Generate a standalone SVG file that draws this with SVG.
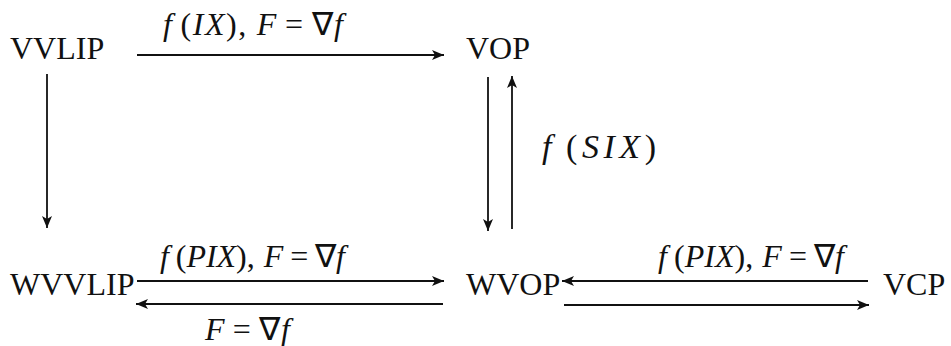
<svg xmlns="http://www.w3.org/2000/svg" width="951" height="346" viewBox="0 0 951 346">
<style>
.node{font-family:'Liberation Serif','Times New Roman',serif;font-size:32px;fill:#111}
.lbl{font-family:'Liberation Serif','Times New Roman',serif;font-size:32px;fill:#111}
.i{font-style:italic}
.c{stroke:#111;stroke-width:1.8;fill:none;marker-end:url(#ah)}
</style>
<defs>
<marker id="ah" markerUnits="userSpaceOnUse" markerWidth="14" markerHeight="10" refX="12" refY="5" orient="auto">
<path d="M0,0 L12,5 L0,10 L3,5 Z" fill="#111"/>
</marker>
</defs>
<rect width="951" height="346" fill="#fff"/>
<g id="VVLIP"><text class="node" x="10" y="59">VVLIP</text></g>
<g id="VOP"><text class="node" x="466" y="59">VOP</text></g>
<g id="WVVLIP"><text class="node" x="10" y="295">WVVLIP</text></g>
<g id="WVOP"><text class="node" x="466" y="295">WVOP</text></g>
<g id="VCP"><text class="node" x="883" y="295">VCP</text></g>
<g id="connectors">
<line class="c" x1="137" y1="55" x2="444" y2="55"/>
<line class="c" x1="47" y1="74" x2="47" y2="228"/>
<line class="c" x1="488" y1="77" x2="488" y2="231"/>
<line class="c" x1="512" y1="229" x2="512" y2="76"/>
<line class="c" x1="137" y1="281" x2="444" y2="281"/>
<line class="c" x1="443" y1="304" x2="136" y2="304"/>
<line class="c" x1="868" y1="281" x2="562" y2="281"/>
<line class="c" x1="564" y1="305" x2="869" y2="305"/>
</g>
<g id="labels">
<text class="lbl" x="163" y="35" textLength="180" lengthAdjust="spacing"><tspan class="i">f</tspan><tspan dx="7">(</tspan><tspan class="i">IX</tspan>),<tspan class="i" dx="9">F</tspan><tspan dx="7">=</tspan><tspan dx="7">∇</tspan><tspan class="i">f</tspan></text>
<text class="lbl" x="542" y="158" style="font-size:34px" textLength="114" lengthAdjust="spacing"><tspan class="i">f</tspan><tspan dx="10">(</tspan><tspan class="i">SIX</tspan>)</text>
<text class="lbl" x="160" y="267" textLength="185" lengthAdjust="spacing"><tspan class="i">f</tspan><tspan dx="7">(</tspan><tspan class="i">PIX</tspan>),<tspan class="i" dx="9">F</tspan><tspan dx="7">=</tspan><tspan dx="7">∇</tspan><tspan class="i">f</tspan></text>
<text class="lbl" x="205" y="340" textLength="85" lengthAdjust="spacing"><tspan class="i">F</tspan><tspan dx="7">=</tspan><tspan dx="7">∇</tspan><tspan class="i">f</tspan></text>
<text class="lbl" x="658" y="267" textLength="186" lengthAdjust="spacing"><tspan class="i">f</tspan><tspan dx="7">(</tspan><tspan class="i">PIX</tspan>),<tspan class="i" dx="9">F</tspan><tspan dx="7">=</tspan><tspan dx="7">∇</tspan><tspan class="i">f</tspan></text>
</g>
</svg>
